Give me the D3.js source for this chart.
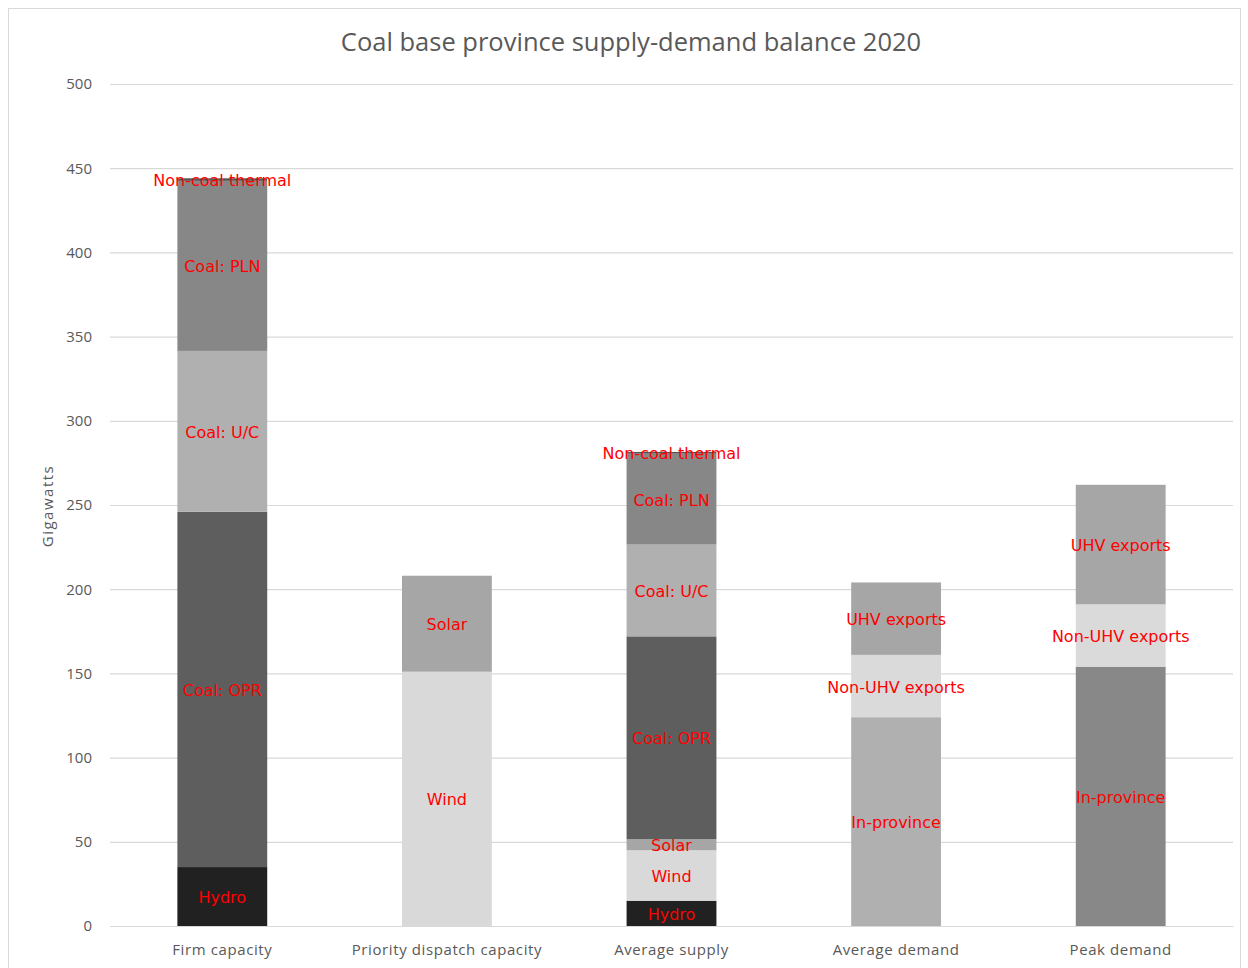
<!DOCTYPE html>
<html>
<head>
<meta charset="utf-8">
<script src="https://cdn.jsdelivr.net/npm/d3@7/dist/d3.min.js"></script>
<style>
  html, body { margin: 0; padding: 0; background: #fff; }
  svg { display: block; }
</style>
</head>
<body>
<svg id="chart" width="1248" height="968"></svg>
<script>
// Categories along the x axis
const categories = ["Firm capacity", "Priority dispatch capacity", "Average supply", "Average demand", "Peak demand"];

// Series values in gigawatts, one entry per category (stacked bottom to top)
const hydro          = [35, 0, 15, 0, 0];
const wind           = [0, 151, 30, 0, 0];
const solar          = [0, 57, 6.5, 0, 0];
const coalOPR        = [211, 0, 120.5, 0, 0];
const coalUC         = [95.5, 0, 54.5, 0, 0];
const coalPLN        = [101, 0, 54, 0, 0];
const nonCoalThermal = [1.5, 0, 1, 0, 0];
const inProvinceAvg  = [0, 0, 0, 124, 0];
const inProvincePeak = [0, 0, 0, 0, 154];
const nonUHVExports  = [0, 0, 0, 37, 37];
const uhvExports     = [0, 0, 0, 43, 71];

// Y axis ticks
const yTicks = [0, 50, 100, 150, 200, 250, 300, 350, 400, 450, 500];

const seriesList = [
  { key: "hydro",   label: "Hydro",            values: hydro,          color: "#212121" },
  { key: "wind",    label: "Wind",             values: wind,           color: "#d9d9d9" },
  { key: "solar",   label: "Solar",            values: solar,          color: "#a6a6a6" },
  { key: "opr",     label: "Coal: OPR",        values: coalOPR,        color: "#5e5e5e" },
  { key: "uc",      label: "Coal: U/C",        values: coalUC,         color: "#b0b0b0" },
  { key: "pln",     label: "Coal: PLN",        values: coalPLN,        color: "#878787" },
  { key: "ncth",    label: "Non-coal thermal", values: nonCoalThermal, color: "#555555" },
  { key: "inAvg",   label: "In-province",      values: inProvinceAvg,  color: "#b0b0b0" },
  { key: "inPeak",  label: "In-province",      values: inProvincePeak, color: "#888888" },
  { key: "nonUHV",  label: "Non-UHV exports",  values: nonUHVExports,  color: "#dadada" },
  { key: "uhv",     label: "UHV exports",      values: uhvExports,     color: "#a6a6a6" }
];

const table = categories.map((c, i) => {
  const row = { category: c };
  seriesList.forEach(s => { row[s.key] = s.values[i]; });
  return row;
});

const stacked = d3.stack().keys(seriesList.map(s => s.key))(table);

const svg = d3.select("#chart");
const plot = { left: 110, right: 1233, top: 84, bottom: 926 };

// Chart frame
svg.append("rect")
  .attr("x", 8.5).attr("y", 8.5)
  .attr("width", 1232).attr("height", 975)
  .attr("fill", "#fff").attr("stroke", "#d9d9d9").attr("stroke-width", 1);

const x = d3.scaleBand().domain(categories).range([plot.left, plot.right])
  .paddingInner(0.6).paddingOuter(0.3);
const y = d3.scaleLinear().domain([0, 500]).range([plot.bottom, plot.top]);

// Gridlines and tick labels
const yAxis = d3.axisLeft(y).tickValues(yTicks).tickSize(-(plot.right - plot.left)).tickPadding(18);
const gy = svg.append("g").attr("transform", `translate(${plot.left},0)`).call(yAxis);
gy.select(".domain").remove();
gy.selectAll(".tick line").attr("stroke", "#d9d9d9").attr("stroke-width", 1.2);
gy.selectAll(".tick text")
  .attr("fill", "#595959")
  .style("font-family", "'Open Sans', sans-serif")
  .style("font-size", "15px");

// Stacked bars
const layers = svg.append("g").selectAll("g")
  .data(stacked).enter().append("g")
  .attr("fill", d => seriesList[d.index].color);

layers.selectAll("rect")
  .data(d => d.filter(p => p[1] - p[0] > 0))
  .enter().append("rect")
  .attr("x", d => x(d.data.category))
  .attr("width", x.bandwidth())
  .attr("y", d => y(d[1]))
  .attr("height", d => y(d[0]) - y(d[1]));

// Category axis
const xAxis = d3.axisBottom(x).tickSize(0).tickPadding(18);
const gx = svg.append("g").attr("transform", `translate(0,${plot.bottom})`).call(xAxis);
gx.select(".domain").attr("stroke", "#d9d9d9").attr("stroke-width", 1.2);
gx.selectAll(".tick text")
  .attr("fill", "#595959")
  .style("font-family", "'Open Sans', sans-serif")
  .style("font-size", "15px")
  .style("letter-spacing", "0.6px");

// Segment labels
const labels = svg.append("g");
stacked.forEach(layer => {
  const s = seriesList[layer.index];
  layer.forEach(p => {
    if (p[1] - p[0] <= 0) return;
    labels.append("text")
      .attr("x", x(p.data.category) + x.bandwidth() / 2)
      .attr("y", y((p[0] + p[1]) / 2) + 1)
      .attr("dy", "0.35em")
      .attr("text-anchor", "middle")
      .attr("fill", "#ff0000")
      .style("font-family", "'DejaVu Sans', sans-serif")
      .style("font-size", "16px")
      .text(s.label);
  });
});

// Title
svg.append("text")
  .attr("x", 631).attr("y", 51)
  .attr("text-anchor", "middle")
  .attr("fill", "#595959")
  .style("font-family", "'Open Sans', sans-serif")
  .style("font-size", "25.5px")
  .text("Coal base province supply-demand balance 2020");

// Y axis title
svg.append("text")
  .attr("transform", `translate(53,506) rotate(-90)`)
  .attr("text-anchor", "middle")
  .attr("fill", "#595959")
  .style("font-family", "'Open Sans', sans-serif")
  .style("font-size", "15px")
  .style("letter-spacing", "1.5px")
  .text("Gigawatts");
</script>
</body>
</html>
